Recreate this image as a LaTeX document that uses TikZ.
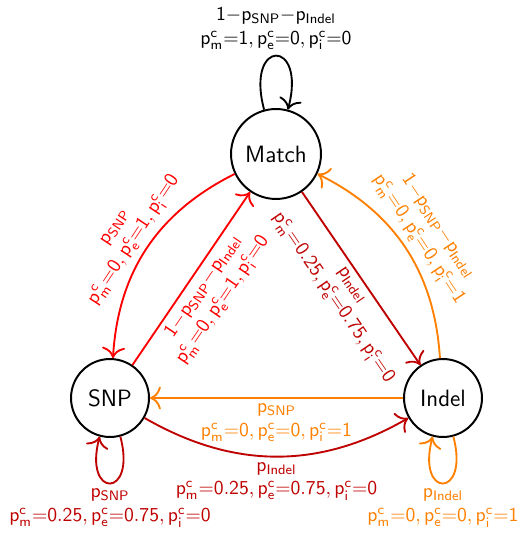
\documentclass[tikz,border=0pt]{standalone}
\usepackage{amsmath}
\usepackage{tikz}
\usetikzlibrary{arrows.meta}
\definecolor{snpColor}{HTML}{FF0000}
\definecolor{indelColor}{HTML}{BF0000}
\definecolor{gapColor}{HTML}{FF8000}
\newcommand{\prob}[1]{\mathsf{p}_{\mathsf{#1}}}
\newcommand{\pcost}[2]{\mathsf{p}^{\mathsf{c}}_{\mathsf{#1}}{=}\mathsf{#2}}
\newcommand{\pstay}{\mathsf{1}{-}\prob{SNP}{-}\prob{Indel}}

\begin{document}
\begin{tikzpicture}[x=0.508pt, y=0.508pt, font=\sffamily,
    state/.style={circle, draw, line width=1pt, minimum size=39.6pt, font=\sffamily\large},
    trans/.style={-{To[scale=1.5]}, line width=0.95pt},
    lbl/.style={align=center, inner sep=2.5pt}]
    \useasboundingbox (0,0) rectangle (517,536);

    \node[state, minimum size=45.7pt] (match) at (276,382) {Match};
    \node[state] (snp) at (110,138) {SNP};
    \node[state] (indel) at (443,138) {Indel};

    \draw[trans] (match) to[loop above]
        node[lbl, above] {$\pstay$\\$\pcost{m}{1},\pcost{e}{0},\pcost{i}{0}$} (match);

    \draw[trans, snpColor] (match) to[bend right]
        node[lbl, sloped, above] {$\prob{SNP}$\\$\pcost{m}{0},\pcost{e}{1},\pcost{i}{0}$} (snp);
    \draw[trans, snpColor] (snp) --
        node[lbl, sloped, below] {$\pstay$\\$\pcost{m}{0},\pcost{e}{1},\pcost{i}{0}$} (match);

    \draw[trans, indelColor] (match) --
        node[lbl, sloped, below] {$\prob{Indel}$\\$\pcost{m}{0.25},\pcost{e}{0.75},\pcost{i}{0}$} (indel);
    \draw[trans, gapColor] (indel) to[bend right]
        node[lbl, sloped, above] {$\pstay$\\$\pcost{m}{0},\pcost{e}{0},\pcost{i}{1}$} (match);

    \draw[trans, gapColor] (indel) --
        node[lbl, below] {$\prob{SNP}$\\$\pcost{m}{0},\pcost{e}{0},\pcost{i}{1}$} (snp);
    \draw[trans, indelColor] (snp) to[bend right]
        node[lbl, below] {$\prob{Indel}$\\$\pcost{m}{0.25},\pcost{e}{0.75},\pcost{i}{0}$} (indel);

    \draw[trans, indelColor] (snp) to[loop below]
        node[lbl, below] {$\prob{SNP}$\\$\pcost{m}{0.25},\pcost{e}{0.75},\pcost{i}{0}$} (snp);
    \draw[trans, gapColor] (indel) to[loop below]
        node[lbl, below] {$\prob{Indel}$\\$\pcost{m}{0},\pcost{e}{0},\pcost{i}{1}$} (indel);
\end{tikzpicture}
\end{document}
